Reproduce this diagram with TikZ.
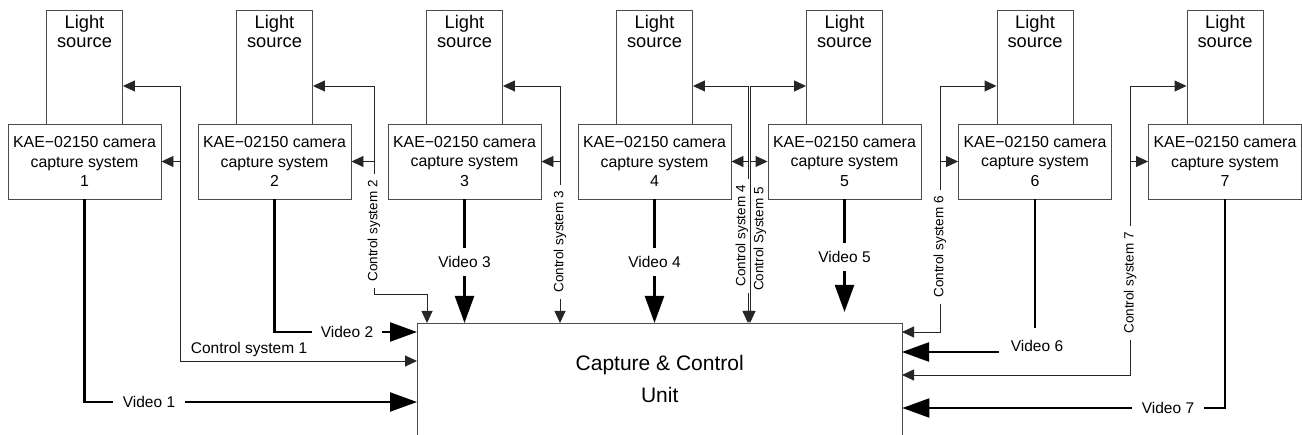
\documentclass[tikz,border=0pt]{standalone}
\usepackage{fontspec}
\setmainfont{Liberation Sans}
\usetikzlibrary{arrows.meta}
\begin{document}
\begin{tikzpicture}[x=1pt,y=-1pt,
  box/.style={draw=black!70, line width=0.9pt},
  cam/.style={box, minimum width=153pt, minimum height=75pt, inner sep=0pt, align=center, font=\fontsize{15.9}{19.5}\selectfont},
  light/.style={box, minimum width=76pt, minimum height=114pt, anchor=north, inner sep=0pt},
  lighttxt/.style={anchor=north, inner sep=0pt, align=center, font=\fontsize{18.3}{19}\selectfont},
  ctl/.style={line width=0.9pt, draw=black!85},
  ctlarr/.style={ctl, -{Triangle[length=12pt,width=11pt]}},
  vid/.style={line width=2.3pt},
  vidarr/.style={vid, -{Triangle[length=27pt,width=19pt]}},
  clab/.style={rotate=90, inner xsep=6pt, inner ysep=0pt, font=\fontsize{13.5}{14}\selectfont},
  hlab/.style={inner xsep=10pt, inner ysep=0pt, font=\fontsize{15.5}{16}\selectfont},
  vlab/.style={inner xsep=0pt, inner ysep=8pt, font=\fontsize{15.5}{16}\selectfont},
  ccustyle/.style={draw=none, anchor=north west, minimum width=485pt, minimum height=112pt, inner sep=0pt, align=center, font=\fontsize{21}{32}\selectfont}
]
\useasboundingbox (0,0) rectangle (1302,435);

% cameras and light sources
\foreach \i/\x in {1/84.5,2/274.5,3/464.5,4/654.5,5/844.5,6/1035,7/1225}{
  \node[cam] (c\i) at (\x,161.5) {KAE−02150 camera\\capture system\\\i};
  \node[light] (l\i) at (\x,10) {};
  \node[lighttxt] (t\i) at ([yshift=-5pt]l\i.north) {Light\\source};
}

% capture & control unit
\node[ccustyle] (ccu) at (417,323) {Capture \& Control\\Unit};
\draw[box] (ccu.south west) -- (ccu.north west) -- (ccu.north east) -- (ccu.south east);

% junctions and entry points
\coordinate (k1) at (180,86);
\coordinate (k2) at (374,86);
\coordinate (k3) at (560,86);
\coordinate (k4) at (748,86);
\coordinate (k5) at (750,86);
\coordinate (k6) at (940,86);
\coordinate (k7) at (1130,86);
\coordinate (e1) at (417,361);
\coordinate (b2) at (374,294);
\coordinate (e2) at (427,323);
\coordinate (e3) at (560,323);
\coordinate (e4) at (748,323);
\coordinate (e5) at (750,323);
\coordinate (e6) at (902,332);
\coordinate (e7) at (902,375);

% control system 1
\draw[ctlarr] (k1) -- (l1.east |- k1);
\draw[ctlarr] (k1 |- c1) -- (c1.east);
\draw[ctlarr] (k1) |- (e1);
\node[hlab, inner xsep=0pt] (cs1) at (249,349) {Control system 1};

% control system 2
\draw[ctlarr] (k2) -- (l2.east |- k2);
\draw[ctlarr] (k2 |- c2) -- (c2.east);
\node[clab] (cs2) at (374,231) {Control system 2};
\draw[ctl] (k2) -- (cs2.east);
\draw[ctlarr] (cs2.west) -- (b2) -| (e2);

% control system 3
\draw[ctlarr] (k3) -- (l3.east |- k3);
\draw[ctlarr] (k3 |- c3) -- (c3.east);
\node[clab] (cs3) at (560,242) {Control system 3};
\draw[ctl] (k3) -- (cs3.east);
\draw[ctlarr] (cs3.west) -- (e3);

% control system 4
\draw[ctlarr] (k4) -- (l4.east |- k4);
\draw[ctlarr] (k4 |- c4) -- (c4.east);
\node[clab] (cs4) at (742,236) {Control system 4};
\draw[ctl] (k4) -- (k4 |- cs4.east);
\draw[ctlarr] (k4 |- cs4.west) -- (e4);

% control system 5
\draw[ctlarr] (k5) -- (l5.west |- k5);
\draw[ctlarr] (k5 |- c5) -- (c5.west);
\node[clab] (cs5) at (760,239) {Control System 5};
\draw[ctlarr] (k5) -- (e5);

% control system 6
\draw[ctlarr] (k6) -- (l6.west |- k6);
\draw[ctlarr] (k6 |- c6) -- (c6.west);
\node[clab] (cs6) at (940,247) {Control system 6};
\draw[ctl] (k6) -- (cs6.east);
\draw[ctlarr] (cs6.west) |- (e6);

% control system 7
\draw[ctlarr] (k7) -- (l7.west |- k7);
\draw[ctlarr] (k7 |- c7) -- (c7.west);
\node[clab] (cs7) at (1130,283) {Control system 7};
\draw[ctl] (k7) -- (cs7.east);
\draw[ctlarr] (cs7.west) |- (e7);

% video 1
\node[hlab] (v1) at (149,402) {Video 1};
\draw[vid] (c1.south) |- (v1.west);
\draw[vidarr] (v1.east) -- (ccu.west |- v1);

% video 2
\node[hlab, inner xsep=9pt] (v2) at (347,332) {Video 2};
\draw[vid] (c2.south) |- (v2.west);
\draw[vidarr] (v2.east) -- (ccu.west |- v2);

% video 3
\node[vlab] (v3) at (464.5,262) {Video 3};
\draw[vid] (c3.south) -- (v3.north);
\draw[vidarr] (v3.south) -- (ccu.north -| v3);

% video 4
\node[vlab] (v4) at (654.5,262) {Video 4};
\draw[vid] (c4.south) -- (v4.north);
\draw[vidarr] (v4.south) -- (ccu.north -| v4);

% video 5
\node[vlab] (v5) at (844.5,257) {Video 5};
\coordinate (f5) at (844.5,312);
\draw[vid] (c5.south) -- (v5.north);
\draw[vidarr] (v5.south) -- (f5);

% video 6
\coordinate (f6) at (1035,328);
\draw[vid] (c6.south) -- (f6);
\node[hlab, inner xsep=12pt] (v6) at (1037,346) {Video 6};
\coordinate (g6) at (902,352);
\draw[vidarr] (v6.west |- g6) -- (g6);

% video 7
\node[hlab] (v7) at (1168,408) {Video 7};
\draw[vid] (c7.south) |- (v7.east);
\draw[vidarr] (v7.west) -- (ccu.east |- v7);
\end{tikzpicture}
\end{document}
